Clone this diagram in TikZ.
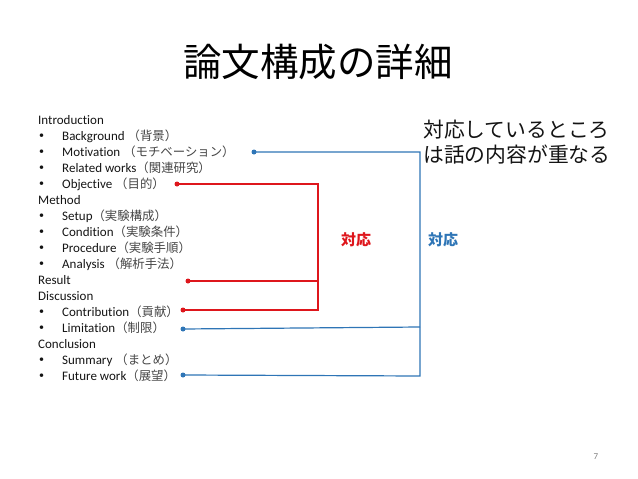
\documentclass[tikz,border=0pt]{standalone}
\usepackage{fontspec}
\setmainfont{Carlito}[Ligatures=NoCommon]
\newfontfamily\jp{Noto Sans CJK JP}
\definecolor{cred}{RGB}{222,22,28}
\definecolor{cblue}{RGB}{46,117,182}
\definecolor{txt}{RGB}{20,20,20}
\definecolor{jtxt}{RGB}{70,70,70}
\begin{document}
\begin{tikzpicture}[x=1pt,y=-1pt,
  item/.style={anchor=west,inner sep=0pt,font=\fontsize{13}{15}\selectfont,text=txt},
  bul/.style={anchor=west,inner sep=0pt,font=\fontsize{10}{12}\selectfont,text=txt},
  dotr/.style={circle,fill=cred,inner sep=0pt,minimum size=5pt},
  dotb/.style={circle,fill=cblue,inner sep=0pt,minimum size=5pt},
  rl/.style={draw=cred,line width=1.2pt},
  bl/.style={draw=cblue,line width=1.2pt}]
\useasboundingbox (0,0) rectangle (638,479);
\node (title) at (318,62) {\jp\fontsize{38.5}{42}\selectfont 論文構成の詳細};
\newcommand\jj[1]{{\jp\color{jtxt}\fontsize{12.4}{14}\selectfont #1}}
\node[item] (intro) at (38,120) {Introduction};
\node[bul] (b1) at (39,136) {•}; \node[item] (bg) at (62,136) {Background \jj{（背景）}};
\node[bul] (b2) at (39,152) {•}; \node[item] (mot) at (62,152) {Motivation \jj{（モチベーション）}};
\node[bul] (b3) at (39,168) {•}; \node[item] (rel) at (62,168) {Related works\jj{（関連研究）}};
\node[bul] (b4) at (39,184) {•}; \node[item] (obj) at (62,184) {Objective \jj{（目的）}};
\node[item] (meth) at (38,200) {Method};
\node[bul] (b5) at (39,216) {•}; \node[item] (set) at (62,216) {Setup\jj{（実験構成）}};
\node[bul] (b6) at (39,232) {•}; \node[item] (cond) at (62,232) {Condition\jj{（実験条件）}};
\node[bul] (b7) at (39,248) {•}; \node[item] (proc) at (62,248) {Procedure\jj{（実験手順）}};
\node[bul] (b8) at (39,264) {•}; \node[item] (ana) at (62,264) {Analysis \jj{（解析手法）}};
\node[item] (res) at (38,280) {Result};
\node[item] (disc) at (38,296) {Discussion};
\node[bul] (b9) at (39,312) {•}; \node[item] (con) at (62,312) {Contribution\jj{（貢献）}};
\node[bul] (b10) at (39,328) {•}; \node[item] (lim) at (62,328) {Limitation\jj{（制限）}};
\node[item] (concl) at (38,344) {Conclusion};
\node[bul] (b11) at (39,360) {•}; \node[item] (sum) at (62,360) {Summary \jj{（まとめ）}};
\node[bul] (b12) at (39,376) {•}; \node[item] (fut) at (62,376) {Future work\jj{（展望）}};
% dots
\node[dotb] (dmot) at (254,152) {};
\node[dotr] (dobj) at (177,184) {};
\node[dotr] (dres) at (188,281) {};
\node[dotr] (dcon) at (183,310) {};
\node[dotb] (dlim) at (183,329) {};
\node[dotb] (dfut) at (183,375) {};
% corners
\coordinate (r1) at (318,184);
\coordinate (r2) at (318,281);
\coordinate (r3) at (318,310);
\coordinate (q1) at (420,152);
\coordinate (q2) at (420,327);
\coordinate (q3) at (420,376);
\draw[rl] (dobj.center) -- (r1) -- (r3) -- (dcon.center);
\draw[rl] (dres.center) -- (r2);
\draw[bl] (dmot.center) -- (q1) -- (q3) -- (dfut.center);
\draw[bl] (dlim.center) -- (q2);
\node[text=cred,font=\jp\bfseries\fontsize{15}{18}\selectfont] (lr) at (356,240) {対応};
\node[text=cblue,font=\jp\bfseries\fontsize{15}{18}\selectfont] (lb) at (443,240) {対応};
\node[anchor=north west,inner sep=0pt,align=left,text=txt,font=\jp\fontsize{20.8}{25}\selectfont] (note) at (423,120) {対応しているところ\\は話の内容が重なる};
\node[text=gray,font=\fontsize{9}{11}\selectfont] (pg) at (596,457) {7};
\end{tikzpicture}
\end{document}
